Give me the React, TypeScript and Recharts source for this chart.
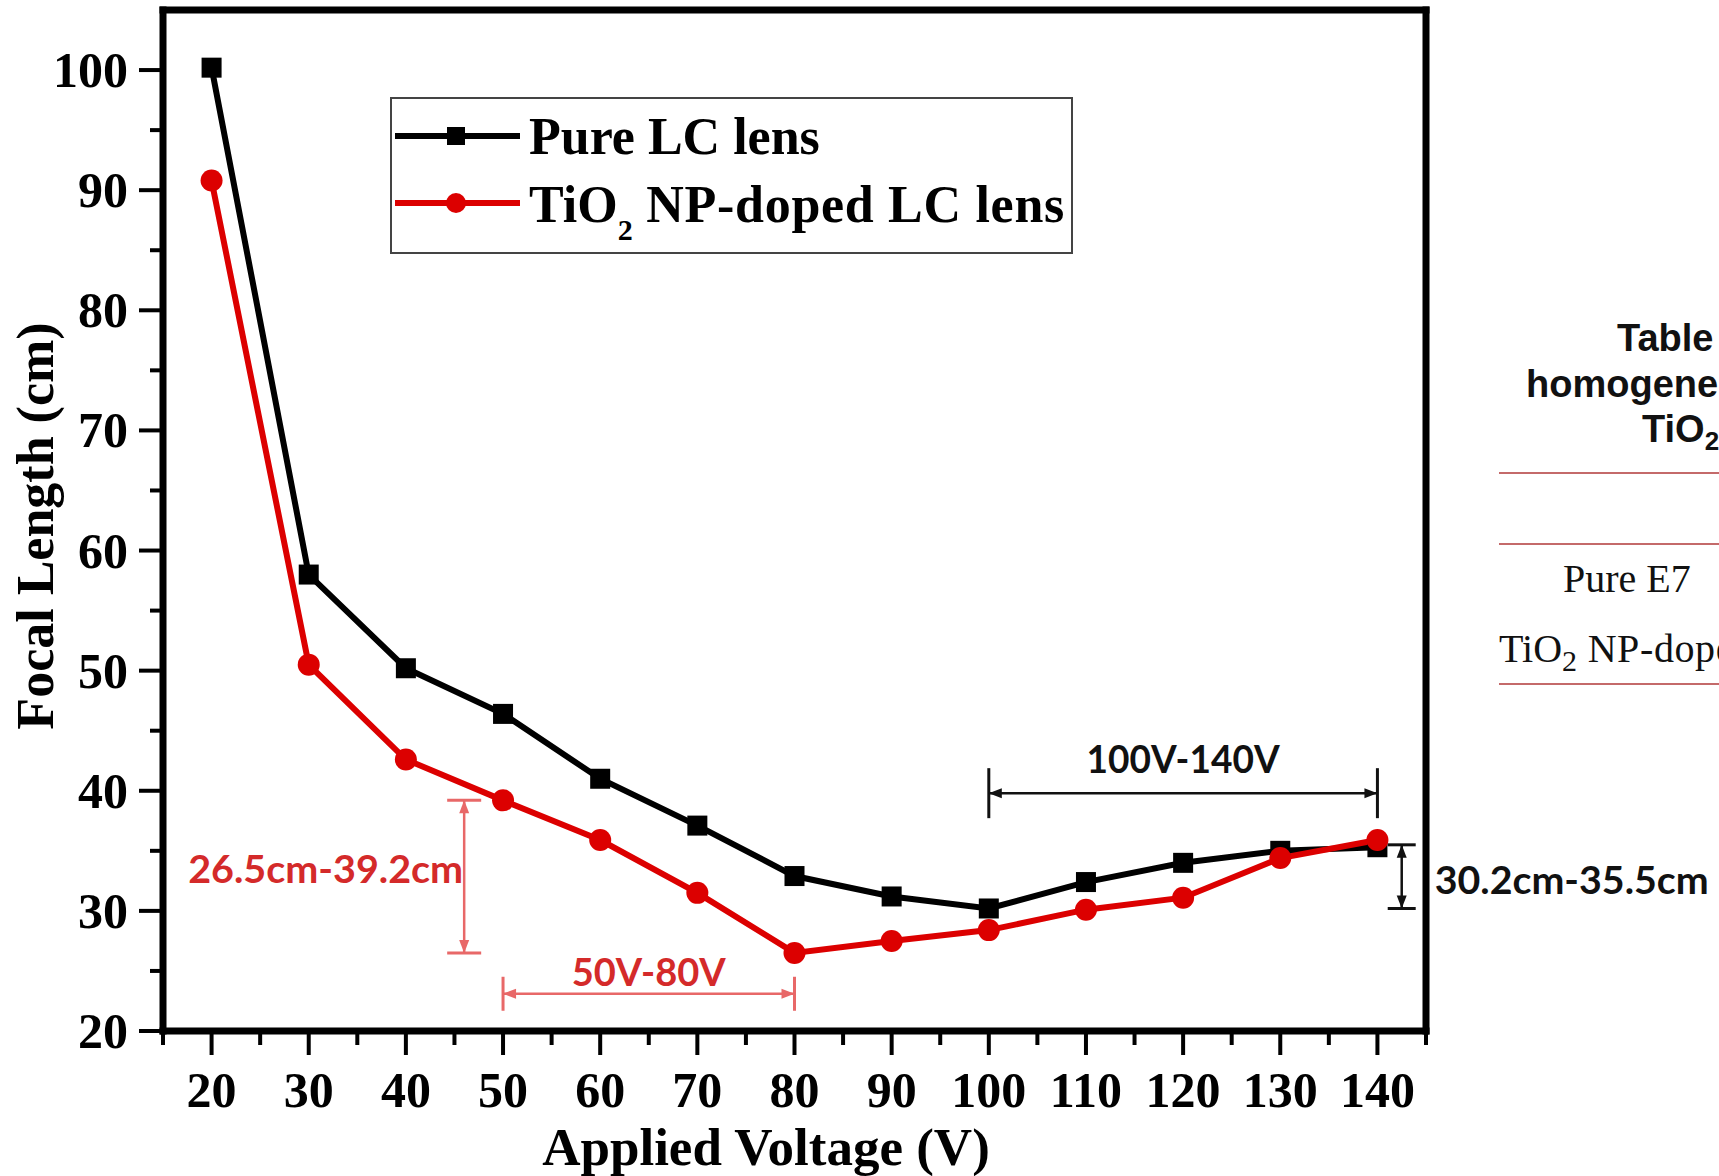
import React from "react";
import { LineChart, Line, XAxis, YAxis, ReferenceLine } from "recharts";

// values
const voltages = [20, 30, 40, 50, 60, 70, 80, 90, 100, 110, 120, 130, 140];
const pureLC = [100.2, 58.0, 50.2, 46.4, 41.0, 37.1, 32.9, 31.2, 30.2, 32.4, 34.0, 35.0, 35.3];
const tio2LC = [90.8, 50.5, 42.6, 39.2, 35.9, 31.5, 26.5, 27.5, 28.4, 30.1, 31.1, 34.4, 35.9];

const xTicks = [15, 20, 25, 30, 35, 40, 45, 50, 55, 60, 65, 70, 75, 80, 85, 90, 95, 100, 105, 110, 115, 120, 125, 130, 135, 140, 145];
const yTicks = [20, 25, 30, 35, 40, 45, 50, 55, 60, 65, 70, 75, 80, 85, 90, 95, 100];

const seriesNames = ["Pure LC lens", "NP-doped LC lens"];

// dimension arrows: label, start and end in data units
const annotations = [
  { label: "26.5cm-39.2cm", from: [46, 39.2], to: [46, 26.5] },
  { label: "50V-80V", from: [50, 23.1], to: [80, 23.1] },
  { label: "100V-140V", from: [100, 39.8], to: [140, 39.8] },
  { label: "30.2cm-35.5cm", from: [142.5, 35.5], to: [142.5, 30.2] },
];

const data = voltages.map((v, i) => ({ v, pure: pureLC[i], tio2: tio2LC[i] }));

const RED = "#dc0000";
const SERIF = "'Liberation Serif', 'Times New Roman', serif";
const SANS = "'Liberation Sans', Arial, sans-serif";
const NOTE = "Lato, 'Open Sans', sans-serif";

// per-annotation styling
const noteStyle = [
  { color: "#e86868", text: "#d42a2a", cap: 17, side: "left", dx: -1, dy: 6, len: 275 },
  { color: "#e86868", text: "#d42a2a", cap: 17, side: "above", dx: 0, dy: -8, len: 154 },
  { color: "#111", text: "#111", cap: 25, side: "above", dx: 0, dy: -20, len: 193 },
  { color: "#111", text: "#111", cap: 14, side: "right", dx: 33, dy: 17, len: 274 },
];

const XTick = ({ x, y, payload }: any) => {
  const v = payload.value;
  const major = v % 10 === 0 && v >= 20 && v <= 140;
  return (
    <g>
      <line x1={x} y1={y} x2={x} y2={y + (major ? 24 : 14)} stroke="#000" strokeWidth={4} />
      {major && (
        <text x={x} y={y + 76} textAnchor="middle" fontFamily={SERIF} fontWeight="bold" fontSize={50} fill="#000">
          {v}
        </text>
      )}
    </g>
  );
};

const YTick = ({ x, y, payload }: any) => {
  const v = payload.value;
  const major = v % 10 === 0;
  return (
    <g>
      <line x1={x} y1={y} x2={x - (major ? 24 : 13)} y2={y} stroke="#000" strokeWidth={4} />
      {major && (
        <text x={x - 35} y={y + 17} textAnchor="end" fontFamily={SERIF} fontWeight="bold" fontSize={50} fill="#000">
          {v}
        </text>
      )}
    </g>
  );
};

const SquareDot = ({ cx, cy }: any) =>
  cx == null ? null : <rect x={cx - 10} y={cy - 10} width={20} height={20} fill="#000" />;

const RoundDot = ({ cx, cy }: any) =>
  cx == null ? null : <circle cx={cx} cy={cy} r={11} fill={RED} />;

function dimShape(label: string, s: any) {
  return (p: any) => {
    const { x1, y1, x2, y2 } = p;
    const head = 13;
    const hw = 5;
    const vertical = Math.abs(x2 - x1) < Math.abs(y2 - y1);
    let heads: string[];
    let caps: number[][];
    let tx: number;
    let ty: number;
    let anchor: string;
    if (vertical) {
      const top = Math.min(y1, y2);
      const bot = Math.max(y1, y2);
      const x = x1;
      heads = [
        `${x},${top} ${x - hw},${top + head} ${x + hw},${top + head}`,
        `${x},${bot} ${x - hw},${bot - head} ${x + hw},${bot - head}`,
      ];
      caps = [
        [x - s.cap, top, x + s.cap, top],
        [x - s.cap, bot, x + s.cap, bot],
      ];
      tx = x + s.dx;
      ty = (top + bot) / 2 + s.dy;
      anchor = s.side === "left" ? "end" : "start";
    } else {
      const l = Math.min(x1, x2);
      const r = Math.max(x1, x2);
      const y = y1;
      heads = [
        `${l},${y} ${l + head},${y - hw} ${l + head},${y + hw}`,
        `${r},${y} ${r - head},${y - hw} ${r - head},${y + hw}`,
      ];
      caps = [
        [l, y - s.cap, l, y + s.cap],
        [r, y - s.cap, r, y + s.cap],
      ];
      tx = (l + r) / 2 + s.dx;
      ty = y + s.dy;
      anchor = "middle";
    }
    return (
      <g>
        <line x1={x1} y1={y1} x2={x2} y2={y2} stroke={s.color} strokeWidth={2.5} />
        {caps.map((c, i) => (
          <line key={i} x1={c[0]} y1={c[1]} x2={c[2]} y2={c[3]} stroke={s.color} strokeWidth={3} />
        ))}
        {heads.map((h, i) => (
          <polygon key={i} points={h} fill={s.color} />
        ))}
        <text
          x={tx}
          y={ty}
          textAnchor={anchor}
          fontFamily={NOTE}
          fontWeight="bold"
          fontSize={38}
          fill={s.text}
          textLength={s.len}
          lengthAdjust="spacingAndGlyphs"
        >
          {label}
        </text>
      </g>
    );
  };
}

const Overlay = () => (
  <svg width={1719} height={1176} style={{ position: "absolute", left: 0, top: 0, pointerEvents: "none" }}>
    {/* axis titles */}
    <text
      transform="translate(53,526) rotate(-90)"
      textAnchor="middle"
      fontFamily={SERIF}
      fontWeight="bold"
      fontSize={52}
      fill="#000"
    >
      Focal Length (cm)
    </text>
    <text x={766} y={1165} textAnchor="middle" fontFamily={SERIF} fontWeight="bold" fontSize={53} fill="#000">
      Applied Voltage (V)
    </text>

    {/* legend */}
    <rect x={391} y={98} width={681} height={155} fill="#fff" stroke="#444" strokeWidth={2} />
    <line x1={395} y1={136} x2={520} y2={136} stroke="#000" strokeWidth={6} />
    <rect x={447} y={127} width={18} height={18} fill="#000" />
    <text x={529} y={154} fontFamily={SERIF} fontWeight="bold" fontSize={52} fill="#000">
      {seriesNames[0]}
    </text>
    <line x1={395} y1={203} x2={520} y2={203} stroke={RED} strokeWidth={6} />
    <circle cx={456} cy={203} r={10} fill={RED} />
    <text x={529} y={222} fontFamily={SERIF} fontWeight="bold" fontSize={52} fill="#000" style={{ whiteSpace: "pre" }}>
      TiO
      <tspan fontSize={30} dy={18}>2</tspan>
      <tspan dy={-18} letterSpacing={0.7}>{" " + seriesNames[1]}</tspan>
    </text>

    {/* neighbouring table fragment, clipped at the right edge as in the source */}
    <text x={1617} y={351} fontFamily={SANS} fontWeight="bold" fontSize={38} fill="#111">
      Table 1
    </text>
    <text x={1526} y={397} fontFamily={SANS} fontWeight="bold" fontSize={38} fill="#111">
      homogeneous
    </text>
    <text x={1642} y={442} fontFamily={SANS} fontWeight="bold" fontSize={38} fill="#111">
      TiO<tspan fontSize={26} dy={8}>2</tspan>
    </text>
    {[473, 544, 684].map((y) => (
      <line key={y} x1={1499} y1={y} x2={1719} y2={y} stroke="#c46a6a" strokeWidth={2} />
    ))}
    <text x={1563} y={592} fontFamily={SERIF} fontSize={40} fill="#111">
      Pure E7
    </text>
    <text x={1499} y={662} fontFamily={SERIF} fontSize={40} fill="#111" style={{ whiteSpace: "pre" }}>
      TiO
      <tspan fontSize={30} dy={9}>2</tspan>
      <tspan dy={-9} letterSpacing={0.6}> NP-doped</tspan>
    </text>
  </svg>
);

export default function App() {
  return (
    <div
      style={{
        position: "absolute",
        left: 0,
        top: 0,
        width: 1719,
        height: 1176,
        overflow: "hidden",
        background: "#fff",
      }}
    >
      <LineChart width={1719} height={1176} data={data} margin={{ top: 10, right: 293, bottom: 0, left: 0 }}>
        <XAxis
          dataKey="v"
          type="number"
          domain={[15, 145]}
          ticks={xTicks}
          interval={0}
          height={145}
          tickSize={0}
          tickMargin={0}
          tickLine={false}
          tick={<XTick />}
          axisLine={{ stroke: "#000", strokeWidth: 7, strokeLinecap: "square" }}
        />
        <YAxis
          type="number"
          domain={[20, 105]}
          ticks={yTicks}
          interval={0}
          width={163}
          tickSize={0}
          tickMargin={0}
          tickLine={false}
          tick={<YTick />}
          axisLine={{ stroke: "#000", strokeWidth: 7, strokeLinecap: "square" }}
        />
        <ReferenceLine y={105} stroke="#000" strokeWidth={7} strokeLinecap="square" ifOverflow="visible" />
        <ReferenceLine x={145} stroke="#000" strokeWidth={7} strokeLinecap="square" ifOverflow="visible" />
        <Line
          dataKey="pure"
          stroke="#000"
          strokeWidth={6}
          isAnimationActive={false}
          dot={(p: any) => <SquareDot key={`s${p.index}`} {...p} />}
          activeDot={false}
        />
        <Line
          dataKey="tio2"
          stroke={RED}
          strokeWidth={6}
          isAnimationActive={false}
          dot={(p: any) => <RoundDot key={`c${p.index}`} {...p} />}
          activeDot={false}
        />
        {annotations.map((a, i) => (
          <ReferenceLine
            key={a.label}
            segment={[
              { x: a.from[0], y: a.from[1] },
              { x: a.to[0], y: a.to[1] },
            ]}
            ifOverflow="visible"
            shape={dimShape(a.label, noteStyle[i])}
          />
        ))}
      </LineChart>
      <Overlay />
    </div>
  );
}
